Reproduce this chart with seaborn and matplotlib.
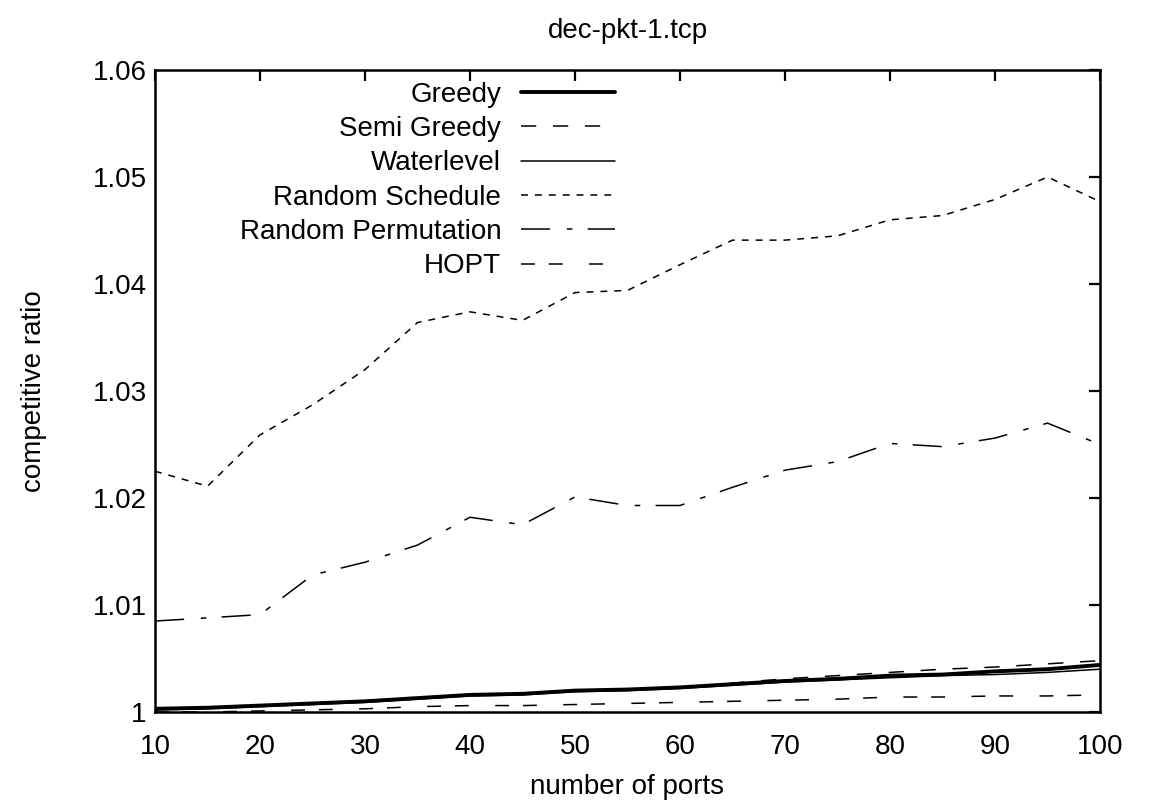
import matplotlib
matplotlib.use("Agg")
import matplotlib.pyplot as plt
import seaborn as sns
import pandas as pd

ports = [10, 15, 20, 25, 30, 35, 40, 45, 50, 55, 60, 65, 70, 75, 80, 85, 90, 95, 100]
greedy = [1.0003, 1.0004, 1.0006, 1.0008, 1.0010, 1.0013, 1.0016, 1.0017, 1.0020, 1.0021, 1.0023, 1.0026, 1.0029, 1.0031, 1.0034, 1.0035, 1.0038, 1.0040, 1.0044]
semi_greedy = [1.0003, 1.0004, 1.0006, 1.0008, 1.0010, 1.0013, 1.0016, 1.0017, 1.0020, 1.0021, 1.0023, 1.0027, 1.0031, 1.0034, 1.0037, 1.0040, 1.0042, 1.0045, 1.0048]
waterlevel = [1.0002, 1.0003, 1.0005, 1.0007, 1.0009, 1.0012, 1.0015, 1.0016, 1.0019, 1.0020, 1.0022, 1.0025, 1.0028, 1.0030, 1.0032, 1.0034, 1.0035, 1.0037, 1.0040]
random_schedule = [1.0225, 1.0211, 1.0259, 1.0287, 1.0320, 1.0364, 1.0374, 1.0366, 1.0392, 1.0394, 1.0418, 1.0441, 1.0441, 1.0445, 1.0460, 1.0464, 1.0479, 1.0500, 1.0477]
random_perm = [1.0085, 1.0088, 1.0091, 1.0128, 1.0140, 1.0156, 1.0182, 1.0175, 1.0201, 1.0193, 1.0193, 1.0210, 1.0226, 1.0234, 1.0251, 1.0248, 1.0256, 1.0270, 1.0250]
hopt = [1.0000, 1.0000, 1.0001, 1.0002, 1.0003, 1.0005, 1.0006, 1.0006, 1.0007, 1.0008, 1.0009, 1.0010, 1.0011, 1.0012, 1.0014, 1.0014, 1.0015, 1.0015, 1.0016]

names = ["Greedy", "Semi Greedy", "Waterlevel", "Random Schedule", "Random Permutation", "HOPT"]
series = [greedy, semi_greedy, waterlevel, random_schedule, random_perm, hopt]

rows = []
for n, s in zip(names, series):
    for x, y in zip(ports, s):
        rows.append({"ports": x, "ratio": y, "alg": n})
df = pd.DataFrame(rows)

sns.set_theme(style="white")
plt.rcParams['font.family'] = ['Liberation Sans', 'DejaVu Sans']
plt.rcParams['lines.scale_dashes'] = False
plt.rcParams['text.color'] = 'black'
plt.rcParams['axes.labelcolor'] = 'black'
plt.rcParams['xtick.color'] = 'black'
plt.rcParams['ytick.color'] = 'black'

FS = 20
fig = plt.figure(figsize=(11.75, 8.02), dpi=100)
ax = fig.add_axes([155/1175, 1 - 712/802, (1100 - 155)/1175, (712 - 70)/802])

dashes = {
    "Greedy": None,
    "Semi Greedy": (11, 12),
    "Waterlevel": None,
    "Random Schedule": (5, 5),
    "Random Permutation": (21, 12, 4, 11),
    "HOPT": (10, 10, 10, 19),
}
widths = {"Greedy": 2.8, "Semi Greedy": 1.1, "Waterlevel": 1.1, "Random Schedule": 1.1,
          "Random Permutation": 1.1, "HOPT": 1.1}

for n in names:
    sub = df[df["alg"] == n]
    sns.lineplot(data=sub, x="ports", y="ratio", ax=ax, color="black",
                 linewidth=widths[n], label=n, legend=False)
    line = ax.get_lines()[-1]
    if dashes[n]:
        line.set_dashes(dashes[n])

ax.set_xlim(10, 100)
ax.set_ylim(1.0, 1.06)
ax.set_xticks(range(10, 101, 10))
ax.set_yticks([1.0, 1.01, 1.02, 1.03, 1.04, 1.05, 1.06])
ax.set_yticklabels(["1", "1.01", "1.02", "1.03", "1.04", "1.05", "1.06"])
ax.tick_params(direction="in", length=8, width=1.6, top=True, right=True,
               labelsize=FS, colors="black")
ax.tick_params(axis="x", pad=16)
ax.tick_params(axis="y", pad=6)
for sp in ax.spines.values():
    sp.set_color("black")
    sp.set_linewidth(1.8)
ax.set_xlabel("number of ports", fontsize=FS, labelpad=10)
ax.set_ylabel("competitive ratio", fontsize=FS, labelpad=33)
ax.set_title("dec-pkt-1.tcp", fontsize=FS, pad=23)

leg = ax.legend(loc="upper right", bbox_to_anchor=(0.487, 0.982), frameon=False,
                markerfirst=False, fontsize=FS, handlelength=3.4,
                labelspacing=0.3, handletextpad=0.7, borderpad=0, borderaxespad=0)

fig.savefig("out.png", dpi=100)
